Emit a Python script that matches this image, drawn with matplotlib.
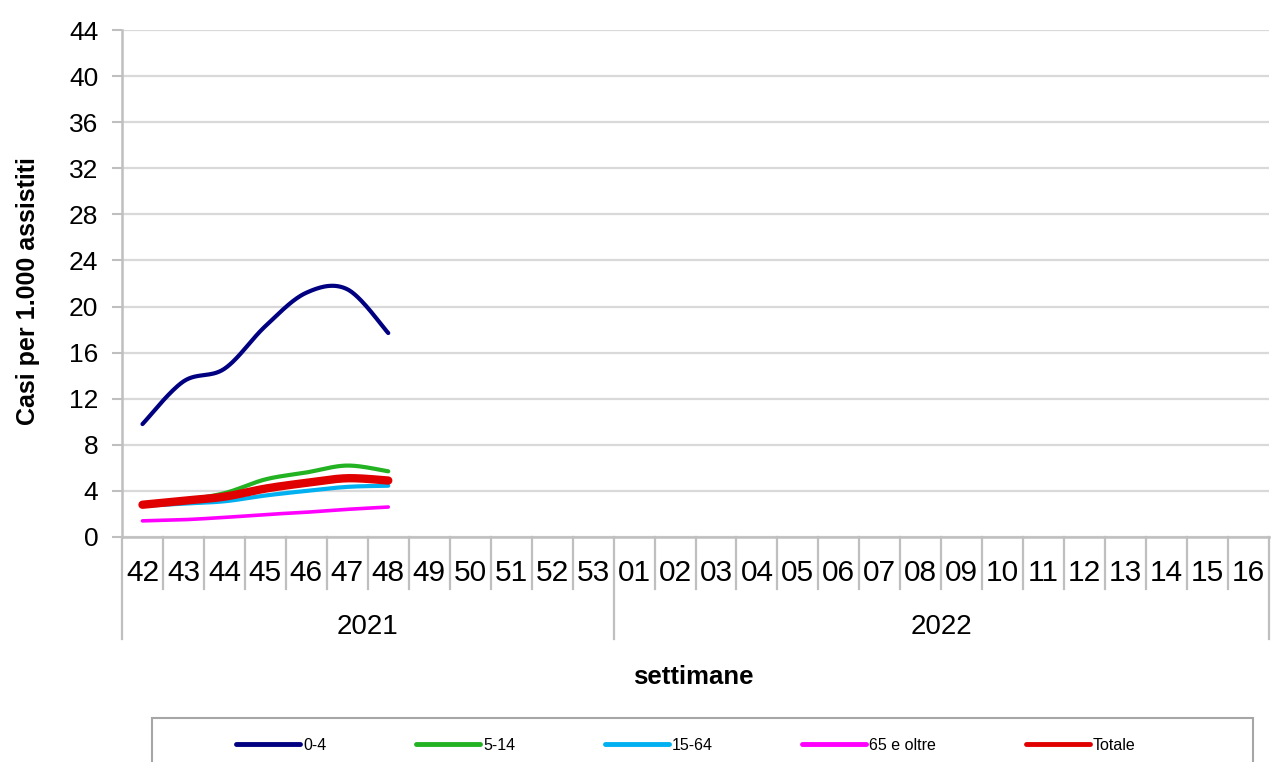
import numpy as np
import matplotlib
matplotlib.use("Agg")
import matplotlib.pyplot as plt
from matplotlib.patches import Rectangle
import matplotlib.transforms as mtransforms

plt.rcParams['font.family'] = ['Liberation Sans', 'DejaVu Sans']

# ---------------- data ----------------
weeks = ["42", "43", "44", "45", "46", "47", "48", "49", "50", "51", "52", "53",
         "01", "02", "03", "04", "05", "06", "07", "08", "09", "10", "11", "12",
         "13", "14", "15", "16"]
years = ["2021", "2022"]
year_counts = [12, 16]

series_names = ["0-4", "5-14", "15-64", "65 e oltre", "Totale"]
v_0_4 = [9.8, 13.5, 14.6, 18.3, 21.2, 21.5, 17.7]
v_5_14 = [2.8, 3.2, 3.8, 5.0, 5.6, 6.2, 5.7]
v_15_64 = [2.7, 2.9, 3.1, 3.6, 4.0, 4.35, 4.45]
v_65 = [1.4, 1.5, 1.7, 1.95, 2.15, 2.4, 2.6]
v_tot = [2.8, 3.15, 3.5, 4.2, 4.7, 5.1, 4.9]

colors = ["#000080", "#22B222", "#00B0F0", "#FF00FF", "#E00000"]
widths = [3.0, 3.0, 3.0, 2.6, 6.0]
y_ticks = list(range(0, 45, 4))


def smooth(xs, ys, n=30):
    """Excel-like smoothed line (Catmull-Rom as cubic Bezier)."""
    P = np.column_stack([xs, ys]).astype(float)
    pts = []
    m = len(P)
    for i in range(m - 1):
        p0 = P[i - 1] if i > 0 else P[i]
        p1 = P[i]
        p2 = P[i + 1]
        p3 = P[i + 2] if i + 2 < m else P[i + 1]
        c1 = p1 + (p2 - p0) / 6.0
        c2 = p2 - (p3 - p1) / 6.0
        t = np.linspace(0, 1, n, endpoint=(i == m - 2))[:, None]
        b = ((1 - t) ** 3) * p1 + 3 * ((1 - t) ** 2) * t * c1 + 3 * (1 - t) * t ** 2 * c2 + t ** 3 * p2
        pts.append(b)
    pts = np.vstack(pts)
    return pts[:, 0], pts[:, 1]


W, H = 1271, 762
fig = plt.figure(figsize=(W / 100, H / 100), dpi=100)
ax_left, ax_right, ax_top, ax_bot = 122, 1269, 30, 537
ax = fig.add_axes([ax_left / W, 1 - ax_bot / H, (ax_right - ax_left) / W, (ax_bot - ax_top) / H])

grid_c = "#D9D9D9"
axis_c = "#BFBFBF"

ax.set_xlim(-0.5, len(weeks) - 0.5)
ax.set_ylim(0, 44)
ax.set_yticks(y_ticks)
ax.set_yticklabels([str(v) for v in y_ticks], fontsize=19)
ax.yaxis.grid(True, color=grid_c, linewidth=1.6)
ax.set_axisbelow(True)
ax.tick_params(axis='y', length=7, width=1.5, color=axis_c, pad=10)
ax.set_xticks([])
for s in ["top", "right"]:
    ax.spines[s].set_visible(False)
for s in ["left", "bottom"]:
    ax.spines[s].set_color(axis_c)
    ax.spines[s].set_linewidth(1.8)

all_vals = [v_0_4, v_5_14, v_15_64, v_65, v_tot]
for name, vals, c, lw in zip(series_names, all_vals, colors, widths):
    xs = np.arange(len(vals))
    sx, sy = smooth(xs, vals)
    ax.plot(sx, sy, color=c, linewidth=lw, solid_capstyle='round', label=name)

# multi-level category axis
trans = mtransforms.blended_transform_factory(ax.transData, ax.transAxes)
h_px = ax_bot - ax_top
sep_short = -(589 - ax_bot) / h_px
sep_long = -(639 - ax_bot) / h_px
lab_y = -(573 - ax_bot) / h_px
year_y = -(627 - ax_bot) / h_px

for i, w in enumerate(weeks):
    ax.text(i, lab_y, w, transform=trans, ha='center', va='center', fontsize=21.5)

boundaries = [0]
for c in year_counts:
    boundaries.append(boundaries[-1] + c)
for i in range(1, len(weeks)):
    if i not in boundaries:
        ax.plot([i - 0.5, i - 0.5], [0, sep_short], transform=trans, color=axis_c,
                linewidth=1.6, clip_on=False)
for b in boundaries:
    ax.plot([b - 0.5, b - 0.5], [0, sep_long], transform=trans, color=axis_c,
            linewidth=1.6, clip_on=False)
for k, yr in enumerate(years):
    mid = (boundaries[k] + boundaries[k + 1]) / 2 - 0.5
    ax.text(mid, year_y, yr, transform=trans, ha='center', va='center', fontsize=20)

# axis titles
fig.text(693 / W, 1 - 677 / H, "settimane", ha='center', va='center',
         fontsize=18.5, fontweight='bold')
fig.text(28 / W, 1 - 291 / H, "Casi per 1.000 assistiti", ha='center', va='center',
         fontsize=18, fontweight='bold', rotation=90)

# legend frame (extends beyond the bottom of the figure)
fig.patches.append(Rectangle((152 / W, -20 / H), (1253 - 152) / W, (762 - 718 + 20) / H,
                             transform=fig.transFigure, facecolor='white',
                             edgecolor='#A6A6A6', linewidth=1.5, zorder=0))
handles = [plt.Line2D([], [], color=c, linewidth=3.5, solid_capstyle='round') for c in colors]
leg = fig.legend(handles, series_names, loc='center', bbox_to_anchor=(686 / W, 1 - 745 / H),
                 ncol=5, frameon=False, fontsize=11.5, handlelength=4.0, handletextpad=0.2,
                 columnspacing=5.6)

fig.savefig("out.png", dpi=100)
